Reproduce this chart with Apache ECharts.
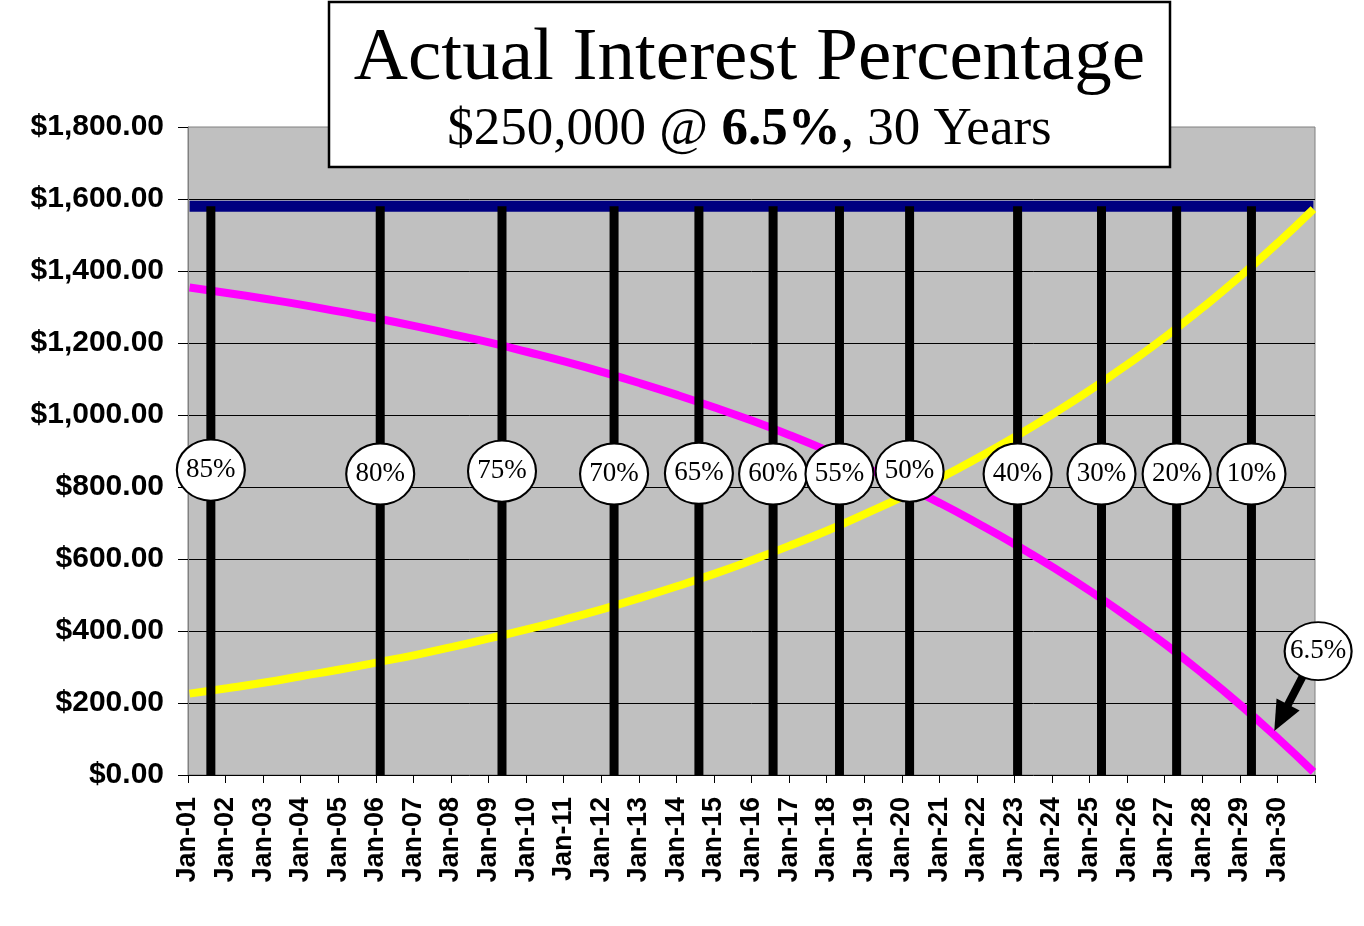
<!DOCTYPE html>
<html>
<head>
<meta charset="utf-8">
<script src="https://cdn.jsdelivr.net/npm/echarts@6/dist/echarts.min.js"></script>
<style>
html,body{margin:0;padding:0;background:#fff;}
#chart{width:1364px;height:926px;}
</style>
</head>
<body>
<div id="chart"></div>
<script>
// ---- data ----
const yearLabels = ['Jan-01','Jan-02','Jan-03','Jan-04','Jan-05','Jan-06','Jan-07','Jan-08','Jan-09','Jan-10',
  'Jan-11','Jan-12','Jan-13','Jan-14','Jan-15','Jan-16','Jan-17','Jan-18','Jan-19','Jan-20',
  'Jan-21','Jan-22','Jan-23','Jan-24','Jan-25','Jan-26','Jan-27','Jan-28','Jan-29','Jan-30'];
const pointMonths = [1,13,25,37,49,61,73,85,97,109,121,133,145,157,169,181,193,205,217,229,241,253,265,277,289,301,313,325,337,349,360];
const interestPaid = [1354,1339,1323,1306,1287,1268,1247,1224,1201,1175,1148,1119,1088,1055,1020,983,943,900,854,806,754,698,639,576,509,437,361,279,192,99,9];
const principalPaid = [226,241,257,275,293,313,333,356,380,405,432,461,492,525,560,598,638,680,726,774,826,882,941,1004,1071,1143,1219,1301,1388,1481,1572];
const paymentMonths = [1,360];
const paymentValues = [1580.17,1580.17];
const markerLabels = ['85%','80%','75%','70%','65%','60%','55%','50%','40%','30%','20%','10%'];
const markerMonths = [7.3,61.4,100.3,136.1,163.2,186.9,208.1,230.5,265.0,291.8,315.8,339.7];
const markerBubbleY = [847,836,844,836,838,836,836,844,836,836,836,836];
const calloutLabel = '6.5%';
const calloutPoint = [361,344];
const calloutArrow = [[356,273],[349.2,159]];

const chart = echarts.init(document.getElementById('chart'));

const ellipse = 'path://M0,1A1,1,0,1,0,2,1A1,1,0,1,0,0,1Z';

const option = {
  animation: false,
  backgroundColor: '#ffffff',
  grid: {
    left: 188, right: 49, top: 127, bottom: 151,
    show: true, backgroundColor: '#C0C0C0', borderColor: '#808080', borderWidth: 1
  },
  xAxis: {
    type: 'value', min: 0, max: 360, interval: 12,
    axisLine: { show: true, onZero: false, lineStyle: { color: '#000', width: 1 } },
    axisTick: { show: true, length: 8, lineStyle: { color: '#000' } },
    splitLine: { show: false },
    axisLabel: {
      rotate: 90, margin: 22, color: '#000', fontSize: 27, fontWeight: 'bold',
      fontFamily: 'Liberation Sans, Arial, sans-serif',
      formatter: v => { const i = Math.round(v / 12); return i < yearLabels.length ? yearLabels[i] : ''; }
    }
  },
  yAxis: {
    type: 'value', min: 0, max: 1800, interval: 200,
    axisLine: { show: true, lineStyle: { color: '#808080' } },
    axisTick: { show: true, length: 10, lineStyle: { color: '#000' } },
    splitLine: { show: true, showMinLine: false, showMaxLine: false, lineStyle: { color: '#000', width: 1 } },
    axisLabel: {
      margin: 24, color: '#000', fontSize: 30, fontWeight: 'bold',
      fontFamily: 'Liberation Sans, Arial, sans-serif',
      formatter: v => '$' + v.toLocaleString('en-US', { minimumFractionDigits: 2, maximumFractionDigits: 2 })
    }
  },
  series: [
    {
      name: 'Payment', type: 'line', z: 2, symbol: 'none',
      data: paymentMonths.map((m, i) => [m - 0.5, paymentValues[i]]),
      lineStyle: { color: '#000080', width: 11 }
    },
    {
      name: 'Interest', type: 'line', z: 3, symbol: 'none', smooth: true,
      data: pointMonths.map((m, i) => [m - 0.5, interestPaid[i]]),
      lineStyle: { color: '#FF00FF', width: 8 }
    },
    {
      name: 'Principal', type: 'line', z: 3, symbol: 'none', smooth: true,
      data: pointMonths.map((m, i) => [m - 0.5, principalPaid[i]]),
      lineStyle: { color: '#FFFF00', width: 8 }
    },
    {
      name: 'Markers', type: 'bar', z: 4, barWidth: 9,
      data: markerMonths.map(m => [m, paymentValues[0]]),
      itemStyle: { color: '#000' }
    },
    {
      name: 'Bubbles', type: 'scatter', z: 6, clip: false,
      symbol: ellipse,
      data: markerMonths.map((m, i) => ({ name: markerLabels[i], value: [m, markerBubbleY[i]], symbolSize: [68, 61] }))
        .concat([{ name: calloutLabel, value: calloutPoint, symbolSize: [67, 58] }]),
      itemStyle: { color: '#fff', borderColor: '#000', borderWidth: 2, opacity: 1 },
      label: {
        show: true, position: 'inside', formatter: p => p.name,
        color: '#000', fontSize: 27, fontFamily: 'Liberation Serif, Times New Roman, serif'
      },
      markLine: {
        silent: true, symbol: ['none', 'triangle'], symbolSize: [26, 30],
        label: { show: false },
        lineStyle: { color: '#000', width: 8, type: 'solid' },
        data: [[{ coord: calloutArrow[0] }, { coord: calloutArrow[1] }]]
      }
    }
  ],
  graphic: [
    {
      type: 'rect', z: 50,
      shape: { x: 329, y: 2, width: 841, height: 165 },
      style: { fill: '#fff', stroke: '#000', lineWidth: 2.5 }
    },
    {
      type: 'text', z: 51,
      style: {
        x: 749.5, y: 59, text: 'Actual Interest Percentage', align: 'center', verticalAlign: 'middle',
        fill: '#000', font: '75px "Liberation Serif", "Times New Roman", serif'
      }
    },
    {
      type: 'text', z: 51,
      style: {
        x: 749.5, y: 130, align: 'center', verticalAlign: 'middle',
        text: '{n|$250,000 @ }{b|6.5%}{n|, 30 Years}',
        rich: {
          n: { fontSize: 53, fontFamily: 'Liberation Serif, Times New Roman, serif', fill: '#000', fontWeight: 'normal' },
          b: { fontSize: 53, fontFamily: 'Liberation Serif, Times New Roman, serif', fill: '#000', fontWeight: 'bold' }
        }
      }
    }
  ]
};
chart.setOption(option);
</script>
</body>
</html>
